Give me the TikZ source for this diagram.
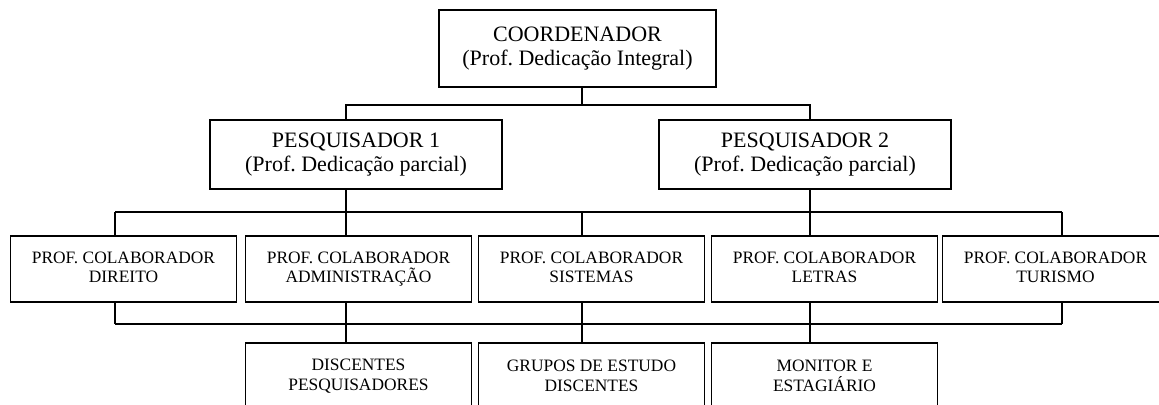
\documentclass[tikz,border=0pt]{standalone}
\usepackage{fontspec}
\setmainfont{Liberation Serif}
\frenchspacing
\newcommand{\grande}{\fontsize{11}{12}\selectfont}
\newcommand{\pequeno}{\fontsize{8.7}{9.7}\selectfont}
\tikzset{
  cargo/.style={draw, line width=0.9pt, inner sep=0pt, align=center, font=\grande},
  setor/.style={draw, line width=0.9pt, inner sep=0pt, align=center, font=\pequeno, minimum width=113pt, minimum height=33pt},
  liga/.style={line width=0.8pt}
}
\begin{document}
\begin{tikzpicture}[x=0.5pt,y=-0.5pt]
        \clip (0,0) rectangle (1159,404);
        \node[cargo, minimum width=138.5pt, minimum height=38.5pt] (coord) at (577.5,48.5) {COORDENADOR\\(Prof. Dedicação Integral)};
        \node[cargo, minimum width=146pt, minimum height=34.5pt] (pesq1) at (356,154.5) {PESQUISADOR 1\\(Prof. Dedicação parcial)};
        \node[cargo, minimum width=146pt, minimum height=34.5pt] (pesq2) at (805,154.5) {PESQUISADOR 2\\(Prof. Dedicação parcial)};
        
        \node[setor] (direito)  at (123.5,269) {PROF. COLABORADOR\\DIREITO\vphantom{Ç}};
        \node[setor] (admin)    at (358.5,269) {PROF. COLABORADOR\\ADMINISTRAÇÃO};
        \node[setor] (sistemas) at (591.5,269) {PROF. COLABORADOR\\SISTEMAS\vphantom{Ç}};
        \node[setor] (letras)   at (824.5,269) {PROF. COLABORADOR\\LETRAS\vphantom{Ç}};
        \node[setor] (turismo)  at (1055.5,269) {PROF. COLABORADOR\\TURISMO\vphantom{Ç}};
        
        \node[setor] (discentes) at (358.5,376) {DISCENTES\\PESQUISADORES};
        \node[setor] (grupos)    at (591.5,376) {GRUPOS DE ESTUDO\\DISCENTES};
        \node[setor] (monitor)   at (824.5,376) {MONITOR E\\ESTAGIÁRIO};
        
        \coordinate (j0) at (582,105);
        \coordinate (t1) at (346,105);
        \coordinate (t2) at (810,105);
        \coordinate (m1) at (115,212);
        \coordinate (m2) at (346,212);
        \coordinate (m3) at (582,212);
        \coordinate (m4) at (810,212);
        \coordinate (m5) at (1062,212);
        \coordinate (l1) at (115,324);
        \coordinate (l2) at (346,324);
        \coordinate (l3) at (582,324);
        \coordinate (l4) at (810,324);
        \coordinate (l5) at (1062,324);
        
        \draw[liga] (coord.south -| j0) -- (j0);
        \draw[liga] (pesq1.north -| t1) -- (t1) -- (t2) -- (pesq2.north -| t2);
        \draw[liga] (pesq1.south -| m2) -- (m2);
        \draw[liga] (pesq2.south -| m4) -- (m4);
        \draw[liga] (m1) -- (m5);
        \draw[liga] (l1) -- (l5);
        \foreach \n/\c/\d in {direito/m1/l1, admin/m2/l2, sistemas/m3/l3, letras/m4/l4, turismo/m5/l5}{
          \draw[liga] (\c) -- (\n.north -| \c);
          \draw[liga] (\n.south -| \d) -- (\d);
        }
        \foreach \n/\c in {discentes/l2, grupos/l3, monitor/l4}
          \draw[liga] (\c) -- (\n.north -| \c);
      \end{tikzpicture}
\end{document}
